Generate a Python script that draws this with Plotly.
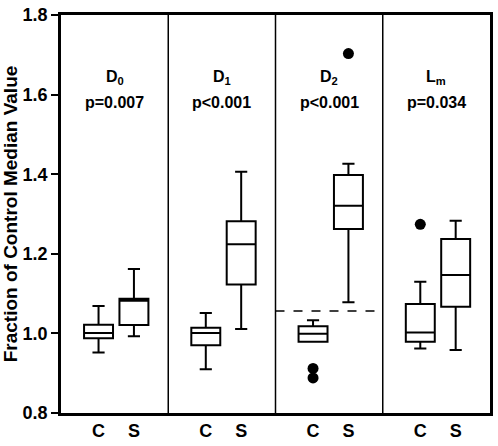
import plotly.graph_objects as go

# ---- data ----
groups = ["D<sub>0</sub>", "D<sub>1</sub>", "D<sub>2</sub>", "L<sub>m</sub>"]
p_values = ["p=0.007", "p<0.001", "p<0.001", "p=0.034"]
categories = ["C", "S"]

c_lower = [0.952, 0.910, 0.979, 0.962]
c_q1 = [0.988, 0.970, 0.979, 0.979]
c_median = [1.001, 1.001, 0.999, 1.002]
c_q3 = [1.022, 1.014, 1.018, 1.074]
c_upper = [1.069, 1.051, 1.033, 1.130]

s_lower = [0.993, 1.011, 1.078, 0.958]
s_q1 = [1.021, 1.123, 1.262, 1.067]
s_median = [1.082, 1.224, 1.321, 1.147]
s_q3 = [1.087, 1.282, 1.398, 1.237]
s_upper = [1.162, 1.406, 1.426, 1.283]

c_outliers = [[], [], [0.912, 0.888], [1.274]]
s_outliers = [[], [], [1.703], []]

d2_reference_line = 1.056
y_ticks = [0.8, 1.0, 1.2, 1.4, 1.6, 1.8]

# ---- layout helpers (style, not data) ----
offsets = {"C": 0.35, "S": 0.68}
box_w = 0.27
FONT = "Liberation Sans, Arial, sans-serif"

fig = go.Figure()

series = {
    "C": (c_lower, c_q1, c_median, c_q3, c_upper, c_outliers),
    "S": (s_lower, s_q1, s_median, s_q3, s_upper, s_outliers),
}

for cat in categories:
    lo, q1, med, q3, hi, outs = series[cat]
    xs = [i + offsets[cat] for i in range(len(groups))]
    fig.add_trace(go.Box(
        x=xs, lowerfence=lo, q1=q1, median=med, q3=q3, upperfence=hi,
        width=box_w, whiskerwidth=0.42, boxpoints=False,
        fillcolor="white", line=dict(color="black", width=2),
        showlegend=False, hoverinfo="skip",
    ))
    ox, oy = [], []
    for i, vals in enumerate(outs):
        for v in vals:
            ox.append(i + offsets[cat])
            oy.append(v)
    fig.add_trace(go.Scatter(
        x=ox, y=oy, mode="markers",
        marker=dict(color="black", size=11),
        showlegend=False, hoverinfo="skip",
    ))

# panel separators
for i in range(1, len(groups)):
    fig.add_shape(type="line", xref="x", yref="paper", x0=i, x1=i, y0=0, y1=1,
                  line=dict(color="black", width=1.5))

# dashed reference line in D2 panel
fig.add_shape(type="line", xref="x", yref="y", x0=2, x1=3,
              y0=d2_reference_line, y1=d2_reference_line,
              line=dict(color="black", width=1.5, dash="dash"))

# panel titles
for i, (g, p) in enumerate(zip(groups, p_values)):
    fig.add_annotation(x=i + 0.5, y=1.642, xref="x", yref="y", text=f"<b>{g}</b>",
                       showarrow=False, font=dict(family=FONT, size=16, color="black"))
    fig.add_annotation(x=i + 0.5, y=1.580, xref="x", yref="y", text=f"<b>{p}</b>",
                       showarrow=False, font=dict(family=FONT, size=16, color="black"))

tickvals = [i + offsets[c] for i in range(len(groups)) for c in categories]
ticktext = [c for i in range(len(groups)) for c in categories]

fig.update_layout(
    width=498, height=446,
    margin=dict(l=60, r=5, t=12, b=30),
    paper_bgcolor="white", plot_bgcolor="white",
    xaxis=dict(range=[0, 4], tickvals=tickvals, ticktext=ticktext,
               showgrid=False, zeroline=False, ticks="",
               showline=True, mirror=True, linecolor="black", linewidth=2.5,
               tickfont=dict(family=FONT, size=18, color="black", weight="bold")),
    yaxis=dict(range=[0.8, 1.8], tickvals=y_ticks, tickformat=".1f",
               showgrid=False, zeroline=False, ticks="outside", ticklen=7,
               tickwidth=2, tickcolor="black",
               showline=True, mirror=True, linecolor="black", linewidth=2.5,
               tickfont=dict(family=FONT, size=18, color="black", weight="bold"),
               title=dict(text="Fraction of Control Median Value", standoff=4,
                          font=dict(family=FONT, size=19, color="black", weight="bold"))),
)

fig.write_html("out.html", config={"displayModeBar": False},
               post_script="document.body.style.margin='0';document.body.style.padding='0';")
